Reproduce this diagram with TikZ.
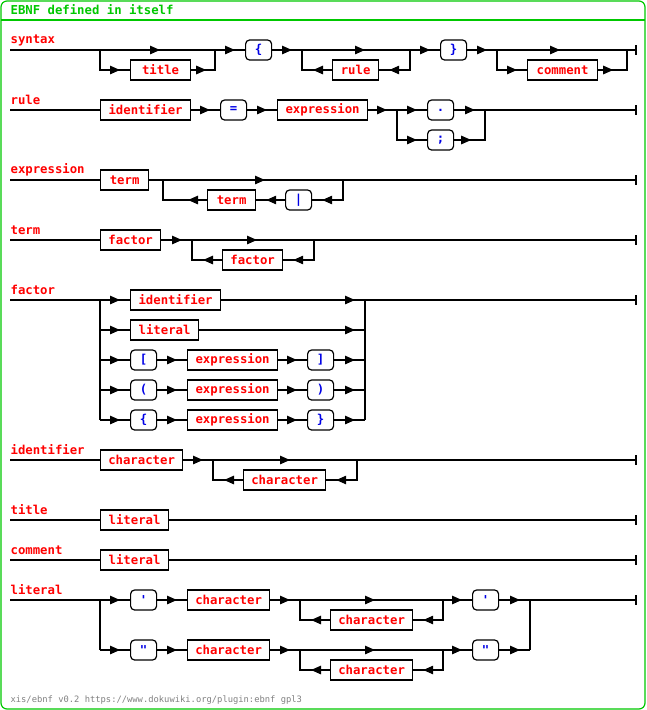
\documentclass[tikz,border=0pt]{standalone}
\usepackage{fontspec}
\newfontfamily\ebnffont{DejaVu Sans Mono}
\usepackage{tikz}
\usetikzlibrary{positioning, calc, arrows.meta, decorations.markings}

\definecolor{ntred}{RGB}{255,0,0}
\definecolor{tblue}{RGB}{0,0,230}
\definecolor{frgreen}{RGB}{0,200,0}

\begin{document}
\begin{tikzpicture}[x=1pt, y=-1pt, line width=1.2pt,
    font=\ebnffont\fontsize{12.3}{13}\selectfont\bfseries,
    nt/.style={draw, text=ntred, minimum height=20pt, inner sep=0pt, anchor=west},
    tm/.style={draw, text=tblue, rounded corners=4pt, minimum width=26pt,
               minimum height=20pt, inner sep=0pt, anchor=west},
    rule/.style={text=ntred, anchor=west, inner sep=0pt},
    ar/.style={postaction=decorate, decoration={markings,
               mark=at position #1 with {\arrow{Triangle[length=10pt,width=8.5pt]}}}},
    ar/.default=-10pt]
  \useasboundingbox (0,0) rectangle (646,710);
  % frame and heading
  \draw[frgreen, rounded corners=6pt] (1,1) rectangle (645,709);
  \draw[frgreen] (1,20) -- (645,20);
  \node[text=frgreen, anchor=west, inner sep=0pt] (head) at (10,10) {EBNF defined in itself};
  \node[text=gray, anchor=west, inner sep=0pt, font=\ebnffont\fontsize{8.8}{9}\selectfont]
    (foot) at (10,700) {xis/ebnf v0.2 https://www.dokuwiki.org/plugin:ebnf gpl3};
  % end ticks
  \foreach \y in {50,110,180,240,300,460,520,560,600}
    \draw (636,\y-5) -- (636,\y+5);

  %syntax
  \node[rule] (syntax) at (10,40) {syntax};
  \coordinate (s0) at (10,50);  \coordinate (s1) at (100,50); \coordinate (s4) at (215,50);
  \coordinate (s5) at (302,50); \coordinate (s8) at (410,50);
  \coordinate (s9) at (497,50); \coordinate (s12) at (627,50);
  \node[nt, minimum width=60pt] (title1) at (130,70) {title};
  \node[tm] (lbrace) at (245,50) {\{};
  \node[nt, minimum width=46pt] (rule1) at (332,70) {rule};
  \node[tm] (rbrace) at (440,50) {\}};
  \node[nt, minimum width=70pt] (comment1) at (527,70) {comment};
  \draw (s0) -- (s1);
  \draw[ar=60pt] (s1) -- (s4);
  \draw[ar] (s1) |- (title1.west);
  \draw[ar=15pt] (title1.east) -| (s4);
  \draw[ar] (s4) -- (lbrace.west);
  \draw[ar] (lbrace.east) -- (s5);
  \draw[ar=63pt] (s5) -- (s8);
  \draw[ar] (s8) |- (rule1.east);
  \draw[ar=19pt] (rule1.west) -| (s5);
  \draw[ar] (s8) -- (rbrace.west);
  \draw[ar] (rbrace.east) -- (s9);
  \draw[ar=63pt] (s9) -- (s12);
  \draw[ar] (s9) |- (comment1.west);
  \draw[ar=15pt] (comment1.east) -| (s12);
  \draw (s12) -- (636,50);

  %rule
  \node[rule] (rule) at (10,100) {rule};
  \node[nt, minimum width=90pt] (ident1) at (100,110) {identifier};
  \node[tm] (equal) at (220,110) {=};
  \node[nt, minimum width=90pt] (expr1) at (277,110) {expression};
  \node[tm] (dot) at (427,110) {.};
  \node[tm] (semi) at (427,140) {;};
  \coordinate (r1) at (397,110); \coordinate (r2) at (485,110);
  \draw (10,110) -- (ident1.west);
  \draw[ar] (ident1.east) -- (equal.west);
  \draw[ar] (equal.east) -- (expr1.west);
  \draw[ar] (expr1.east) -- (r1);
  \draw[ar] (r1) -- (dot.west);
  \draw[ar] (r1) |- (semi.west);
  \draw[ar] (dot.east) -- (r2);
  \draw[ar=17pt] (semi.east) -| (r2);
  \draw (r2) -- (636,110);

  %expression
  \node[rule] (expression) at (10,170) {expression};
  \node[nt, minimum width=48pt] (term1) at (100,180) {term};
  \node[nt, minimum width=48pt] (term2) at (207,200) {term};
  \node[tm] (bar) at (285,200) {|};
  \coordinate (c1) at (163,180); \coordinate (c2) at (343,180);
  \draw (10,180) -- (term1.west);
  \draw (term1.east) -- (c1);
  \draw[ar=102pt] (c1) -- (c2);
  \draw[ar] (c2) |- (bar.east);
  \draw[ar] (bar.west) -- (term2.east);
  \draw[ar=19pt] (term2.west) -| (c1);
  \draw (c2) -- (636,180);

  %term
  \node[rule] (term) at (10,230) {term};
  \node[nt, minimum width=60pt] (fact1) at (100,240) {factor};
  \node[nt, minimum width=60pt] (fact2) at (222,260) {factor};
  \coordinate (d1) at (192,240); \coordinate (d2) at (314,240);
  \draw (10,240) -- (fact1.west);
  \draw[ar] (fact1.east) -- (d1);
  \draw[ar=65pt] (d1) -- (d2);
  \draw[ar] (d2) |- (fact2.east);
  \draw[ar=19pt] (fact2.west) -| (d1);
  \draw (d2) -- (636,240);

  %factor
  \node[rule] (factor) at (10,290) {factor};
  \coordinate (f0) at (100,300); \coordinate (f1) at (365,300);
  \draw (10,300) -- (f0) -- (100,420);
  \draw (f1) -- (365,420);
  \draw (f1) -- (636,300);
  \node[nt, minimum width=90pt] (ident2) at (130,300) {identifier};
  \node[nt, minimum width=68pt] (lit1) at (130,330) {literal};
  \draw[ar] (f0) -- (ident2.west);
  \draw[ar] (ident2.east) -- (f1);
  \draw[ar] (100,330) -- (lit1.west);
  \draw[ar] (lit1.east) -- (365,330);
  \foreach \y/\o/\c [count=\i] in {360/[/], 390/(/), 420/\{/\}} {
    \node[tm] (open\i) at (130,\y) {\o};
    \node[nt, minimum width=90pt] (expr\i b) at (187,\y) {expression};
    \node[tm] (close\i) at (307,\y) {\c};
    \draw[ar] (100,\y) -- (open\i.west);
    \draw[ar] (open\i.east) -- (expr\i b.west);
    \draw[ar] (expr\i b.east) -- (close\i.west);
    \draw[ar] (close\i.east) -- (365,\y);
  }

  %identifier
  \node[rule] (identifier) at (10,450) {identifier};
  \node[nt, minimum width=82pt] (char1) at (100,460) {character};
  \node[nt, minimum width=82pt] (char2) at (243,480) {character};
  \coordinate (g1) at (213,460); \coordinate (g2) at (357,460);
  \draw (10,460) -- (char1.west);
  \draw[ar] (char1.east) -- (g1);
  \draw[ar=77pt] (g1) -- (g2);
  \draw[ar] (g2) |- (char2.east);
  \draw[ar=19pt] (char2.west) -| (g1);
  \draw (g2) -- (636,460);

  %title and comment
  \node[rule] (title) at (10,510) {title};
  \node[nt, minimum width=68pt] (lit2) at (100,520) {literal};
  \draw (10,520) -- (lit2.west);
  \draw (lit2.east) -- (636,520);
  \node[rule] (comment) at (10,550) {comment};
  \node[nt, minimum width=68pt] (lit3) at (100,560) {literal};
  \draw (10,560) -- (lit3.west);
  \draw (lit3.east) -- (636,560);

  %literal
  \node[rule] (literal) at (10,590) {literal};
  \draw (10,600) -- (100,600) -- (100,650);
  \draw (530,600) -- (530,650);
  \draw (530,600) -- (636,600);
  \foreach \y/\q [count=\i] in {600/', 650/"} {
    \node[tm] (qa\i) at (130,\y) {\q};
    \node[nt, minimum width=82pt] (ca\i) at (187,\y) {character};
    \node[nt, minimum width=82pt] (cb\i) at (330,\y+20) {character};
    \node[tm] (qb\i) at (472,\y) {\q};
    \coordinate (h1\i) at (300,\y); \coordinate (h2\i) at (443,\y);
    \draw[ar] (100,\y) -- (qa\i.west);
    \draw[ar] (qa\i.east) -- (ca\i.west);
    \draw[ar] (ca\i.east) -- (h1\i);
    \draw[ar=75pt] (h1\i) -- (h2\i);
    \draw[ar] (h2\i) |- (cb\i.east);
    \draw[ar=19pt] (cb\i.west) -| (h1\i);
    \draw[ar] (h2\i) -- (qb\i.west);
    \draw[ar] (qb\i.east) -- (530,\y);
  }
\end{tikzpicture}
\end{document}
